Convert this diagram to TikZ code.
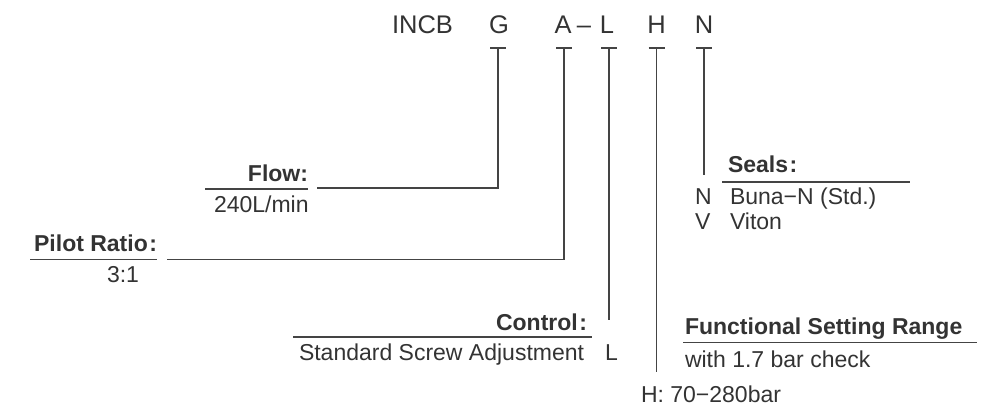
\documentclass[tikz,border=0pt]{standalone}
\usepackage{fontspec}
\setmainfont{Liberation Sans}
\definecolor{ink}{HTML}{333333}
\definecolor{rule}{HTML}{444444}
\begin{document}
\begin{tikzpicture}[x=1pt,y=1pt,
  tx/.style={inner sep=0pt,outer sep=0pt,text=ink,font=\fontsize{23}{27}\selectfont},
  hd/.style={tx,font=\fontsize{23}{27}\selectfont\bfseries},
  code/.style={inner sep=0pt,outer sep=0pt,text=ink,font=\fontsize{25.5}{30}\selectfont,anchor=base},
  ln/.style={draw=rule,line width=1.2pt},
  thin/.style={draw=rule,line width=1.1pt}]
\useasboundingbox (0,0) rectangle (993,-411);
% model code
\node[code,anchor=base west] (incb) at (392,-34) {INCB};
\node[code] (cG) at (499,-34) {G};
\node[code] (cA) at (563,-34) {A};
\node[code] (cd) at (584,-34) {–};
\node[code] (cL) at (607,-34) {L};
\node[code] (cH) at (656.5,-34) {H};
\node[code] (cN) at (704,-34) {N};
% T marks
\foreach \n/\x in {G/498,A/564,L/609,H/656.5,N/704}{
  \coordinate (t\n) at (\x,-48);
  \draw[thin] (\x-8,-48) -- (\x+8,-48);
}
% Flow
\node[hd,anchor=base east] (flow) at (308,-182) {Flow:};
\draw[ln] (205,-189) -- (308,-189);
\node[tx,anchor=base west] (flowv) at (214,-212.7) {240L/min};
\coordinate (fG) at (317,-188);
\draw[ln] (tG) |- (fG);
% Pilot ratio
\node[hd,anchor=base east] (pilot) at (157,-251.7) {Pilot Ratio\kern1.5pt:};
\draw[ln] (30,-259.3) -- (157,-259.3);
\node[tx,anchor=base west] (pilotv) at (107,-283) {3:1};
\coordinate (pA) at (167,-259.3);
\draw[ln] (tA) |- (pA);
% Control
\node[hd,anchor=base east] (ctrl) at (587,-330.7) {Control\kern1.5pt:};
\draw[ln] (293,-337) -- (592,-337);
\node[tx,anchor=base west] (ctrlv) at (299,-360) {Standard Screw Adjustment};
\node[tx,anchor=base west] (ctrlL) at (605,-360) {L};
\coordinate (eL) at (609,-320);
\draw[ln] (tL) -- (eL);
% Functional setting range
\node[hd,anchor=base west] (func) at (685,-335) {Functional Setting Range};
\draw[ln] (683,-342.7) -- (977,-342.7);
\node[tx,anchor=base west] (funcv) at (685,-368) {with 1.7 bar check};
\coordinate (eH) at (656.5,-372);
\draw[ln] (tH) -- (eH);
\node[tx,anchor=base west] (hval) at (641,-402.7) {H: 70−280bar};
% Seals
\node[hd,anchor=base west] (seals) at (728,-173) {Seals\kern1.5pt:};
\draw[ln] (722,-182) -- (910,-182);
\coordinate (eN) at (704,-175);
\draw[ln] (tN) -- (eN);
\node[tx,anchor=base west] (sN) at (695,-205) {N};
\node[tx,anchor=base west] (sNv) at (730,-205) {Buna−N (Std.)};
\node[tx,anchor=base west] (sV) at (695,-230) {V};
\node[tx,anchor=base west] (sVv) at (730,-230) {Viton};
\end{tikzpicture}
\end{document}
